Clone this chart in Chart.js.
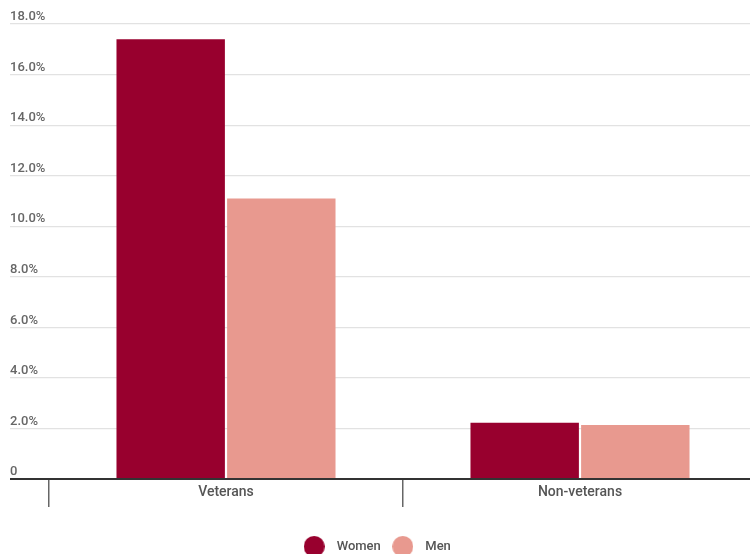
<!DOCTYPE html>
<html>
<head>
<meta charset="utf-8">
<script src="https://cdn.jsdelivr.net/npm/chart.js@4"></script>
<style>
  html, body { margin: 0; padding: 0; background: #fff; overflow: hidden; }
  #wrap { width: 750px; height: 554px; overflow: hidden; }
</style>
</head>
<body>
<div id="wrap"><canvas id="c" width="760" height="554"></canvas></div>
<script>
const categories = ['Veterans', 'Non-veterans'];
const seriesNames = ['Women', 'Men'];
const womenValues = [17.4, 2.23];
const menValues = [11.1, 2.14];
const yTickValues = [0, 2, 4, 6, 8, 10, 12, 14, 16, 18];

const colors = ['#98002E', '#E8998F'];

function dot(color) {
  const c = document.createElement('canvas');
  c.width = 21; c.height = 21;
  const g = c.getContext('2d');
  g.fillStyle = color;
  g.beginPath();
  g.arc(10.5, 10.5, 10.5, 0, Math.PI * 2);
  g.fill();
  return c;
}
const dots = colors.map(dot);

const legendNudge = {
  id: 'legendNudge',
  afterLayout(chart) {
    const l = chart.legend;
    if (!l) return;
    l.left -= 9; l.right -= 9;
    l.top += 9; l.bottom += 9;
  }
};

new Chart(document.getElementById('c'), {
  type: 'bar',
  data: {
    labels: categories,
    datasets: [
      { label: seriesNames[0], data: womenValues, backgroundColor: colors[0],
        barPercentage: 0.98, categoryPercentage: 0.625 },
      { label: seriesNames[1], data: menValues, backgroundColor: colors[1],
        barPercentage: 0.98, categoryPercentage: 0.625 }
    ]
  },
  plugins: [legendNudge],
  options: {
    responsive: false,
    devicePixelRatio: 1,
    animation: false,
    layout: { padding: { left: 10, right: 3, top: 24, bottom: 0 } },
    plugins: {
      tooltip: { enabled: false },
      legend: {
        position: 'bottom',
        labels: {
          usePointStyle: true,
          pointStyleWidth: 32,
          padding: 6,
          color: '#555',
          font: { family: 'Roboto', size: 13, weight: '500' },
          generateLabels: chart => Chart.defaults.plugins.legend.labels.generateLabels(chart)
            .map((l, i) => Object.assign({}, l, { pointStyle: dots[i] }))
        }
      }
    },
    scales: {
      x: {
        offset: true,
        grid: {
          display: true,
          offset: true,
          drawOnChartArea: false,
          drawTicks: true,
          tickLength: 28,
          color: '#666',
          lineWidth: 1.5
        },
        border: { display: true, color: '#333', width: 2 },
        ticks: {
          padding: -23,
          color: '#555',
          font: { family: 'Roboto', size: 14, weight: '500' }
        },
        afterFit: s => { s.height = 46; }
      },
      y: {
        min: 0,
        max: 18,
        afterBuildTicks: s => { s.ticks = yTickValues.map(v => ({ value: v })); },
        afterFit: s => { s.width = 39; },
        border: { display: false },
        grid: {
          drawTicks: true,
          tickLength: 39,
          color: c => (c.tick && c.tick.value === 0) ? '#333' : '#e2e2e2',
          lineWidth: c => (c.tick && c.tick.value === 0) ? 2 : 1.2
        },
        ticks: {
          crossAlign: 'far',
          labelOffset: -7,
          padding: 0,
          color: '#666',
          font: { family: 'Roboto', size: 13, weight: '500' },
          callback: v => v === 0 ? '0' : v.toFixed(1) + '%'
        }
      }
    }
  }
});
</script>
</body>
</html>
